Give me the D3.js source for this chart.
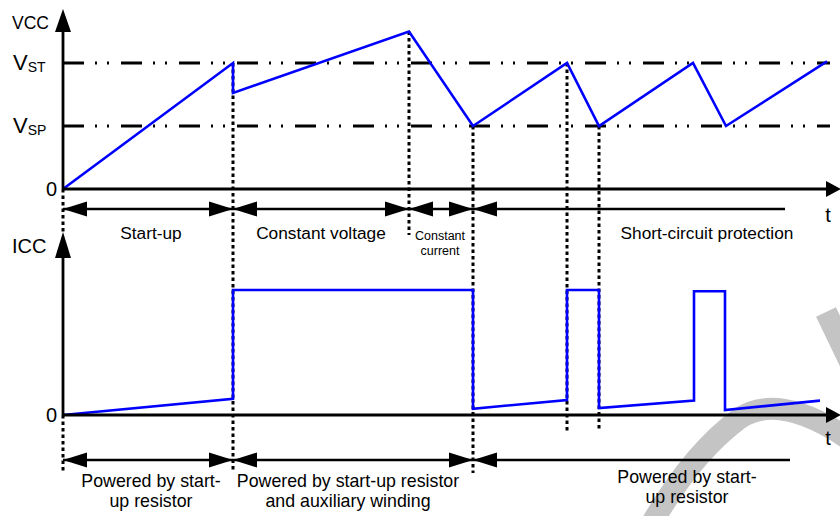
<!DOCTYPE html>
<html>
<head>
<meta charset="utf-8">
<script src="https://cdn.jsdelivr.net/npm/d3@7"></script>
<style>
body { margin: 0; background: #fff; }
text { font-family: "Liberation Sans", Arial, sans-serif; fill: #000; }
</style>
</head>
<body>
<script>
// VCC waveform (time units, volts-ish)
var vccT = [0, 170, 170, 346, 410, 504, 536, 630, 663, 764];
var vccV = [0, 16, 12.2, 20, 8, 16, 8, 16, 8, 16.2];
var VST = 16, VSP = 8;

// ICC waveform
var iccT = [0, 170, 170, 410, 410, 504, 504, 536, 536, 631, 631, 662, 662, 757];
var iccV = [0, 1.3, 10, 10, 0.5, 1.2, 10, 10, 0.55, 1.15, 9.9, 9.9, 0.4, 1.15];

// phase boundaries + labels
var topPhases = [[0, 170, 2], [170, 346, 2], [346, 410, 2], [410, 722, 1]];
var topLabels = ["Start-up", "Constant voltage", "Short-circuit protection"];
var topLabelT = [88, 258, 644];
var botPhases = [[0, 170, 2], [170, 410, 2], [410, 727, 1]];
var botLabels = [["Powered by start-", "up resistor"], ["Powered by start-up resistor", "and auxiliary winding"], ["Powered by start-", "up resistor"]];
var botLabelT = [88, 285, 624];

// vertical guides: time, start (vcc value), end of dotted line
var guideT = [170, 346, 410, 504, 536];
var guideV = [16, 20, 8, 16, 8];
var guideEnd = [470, 235, 473, 433, 430];

var W = 840, H = 516;
var svg = d3.select("body").append("svg").attr("width", W).attr("height", H);

var x = d3.scaleLinear().domain([0, 777]).range([63, 840]);
var yV = d3.scaleLinear().domain([0, 8]).range([189, 126]);
var yI = d3.scaleLinear().domain([0, 10]).range([415, 290]);

// watermark (faint grey strokes)
var wm = svg.append("g").attr("fill", "none").attr("stroke", "#c4c4c4").attr("stroke-width", 22);
wm.append("path").attr("d", "M648,530 Q690,455 740,418 Q780,392 850,440");
wm.append("path").attr("d", "M826,312 L850,362");

// reference levels
[VST, VSP].forEach(function (v) {
	svg.append("line")
		.attr("x1", x(0)).attr("x2", 830)
		.attr("y1", yV(v)).attr("y2", yV(v))
		.attr("stroke", "#000").attr("stroke-width", 2.8)
		.attr("stroke-dasharray", "21,11,2,10,2,12");
});

// dotted guides
var dot = { stroke: "#000", w: 3, dash: "3.5,3" };
function vdot(xx, y1, y2) {
	svg.append("line").attr("x1", xx).attr("x2", xx).attr("y1", y1).attr("y2", y2)
		.attr("stroke", dot.stroke).attr("stroke-width", dot.w).attr("stroke-dasharray", dot.dash);
}
vdot(x(0), 189, 233);
vdot(x(0), 415, 473);
guideT.forEach(function (t, i) { vdot(x(t), yV(guideV[i]), guideEnd[i]); });

// waveforms
var line = d3.line();
svg.append("path")
	.attr("d", line(vccT.map(function (t, i) { return [x(t), yV(vccV[i])]; })))
	.attr("fill", "none").attr("stroke", "#0000ff").attr("stroke-width", 2.6);
svg.append("path")
	.attr("d", line(iccT.map(function (t, i) { return [x(t), yI(iccV[i])]; })))
	.attr("fill", "none").attr("stroke", "#0000ff").attr("stroke-width", 2.6);

// axes
function axisLine(x1, y1, x2, y2) {
	svg.append("line").attr("x1", x1).attr("y1", y1).attr("x2", x2).attr("y2", y2)
		.attr("stroke", "#000").attr("stroke-width", 2.8);
}
function tri(pts) {
	svg.append("path").attr("d", "M" + pts.join("L") + "Z").attr("fill", "#000");
}
axisLine(x(0), yV(0), 828, yV(0));
tri([[826, yV(0) - 8], [841, yV(0)], [826, yV(0) + 8]]);
axisLine(x(0), yV(0), x(0), 30);
tri([[x(0) - 8, 32], [x(0), 9], [x(0) + 8, 32]]);

axisLine(x(0), yI(0), 828, yI(0));
tri([[826, yI(0) - 8], [841, yI(0)], [826, yI(0) + 8]]);
axisLine(x(0), yI(0), x(0), 256);
tri([[x(0) - 8, 258], [x(0), 232], [x(0) + 8, 258]]);

// phase arrows
function head(xt, y, dir) {
	tri([[xt, y], [xt - dir * 24, y - 7.5], [xt - dir * 24, y + 7.5]]);
}
function phaseRow(phases, y) {
	phases.forEach(function (p) {
		svg.append("line").attr("x1", x(p[0])).attr("x2", x(p[1])).attr("y1", y).attr("y2", y)
			.attr("stroke", "#000").attr("stroke-width", 2.4);
		head(x(p[0]), y, -1);
		if (p[2] == 2) head(x(p[1]), y, 1);
	});
}
phaseRow(topPhases, 209);
phaseRow(botPhases, 460);

// texts
function txt(s, xx, yy, size, anchor) {
	return svg.append("text").attr("x", xx).attr("y", yy).attr("font-size", size)
		.attr("text-anchor", anchor || "start").text(s);
}
txt("VCC", 12, 29, 17.5);
txt("ICC", 12, 253, 20);
txt("0", 57, 196, 20, "end");
txt("0", 57, 422, 20, "end");

[[VST, "ST"], [VSP, "SP"]].forEach(function (d) {
	var t = svg.append("text").attr("x", 13).attr("y", yV(d[0]) + 7).attr("font-size", 22);
	t.append("tspan").text("V");
	t.append("tspan").attr("font-size", 14).attr("dy", 2).text(d[1]);
});

txt("t", 828, 222, 20, "middle");
txt("t", 828, 445, 20, "middle");

topLabels.forEach(function (s, i) { txt(s, x(topLabelT[i]), 239, 17.3, "middle"); });
txt("Constant", x(377), 240, 12.5, "middle");
txt("current", x(377), 255, 12.5, "middle");

botLabels.forEach(function (s, i) {
	var yy = i == 2 ? 483 : 487;
	txt(s[0], x(botLabelT[i]), yy, 17.8, "middle");
	txt(s[1], x(botLabelT[i]), yy + 20, 17.8, "middle");
});
</script>
</body>
</html>
